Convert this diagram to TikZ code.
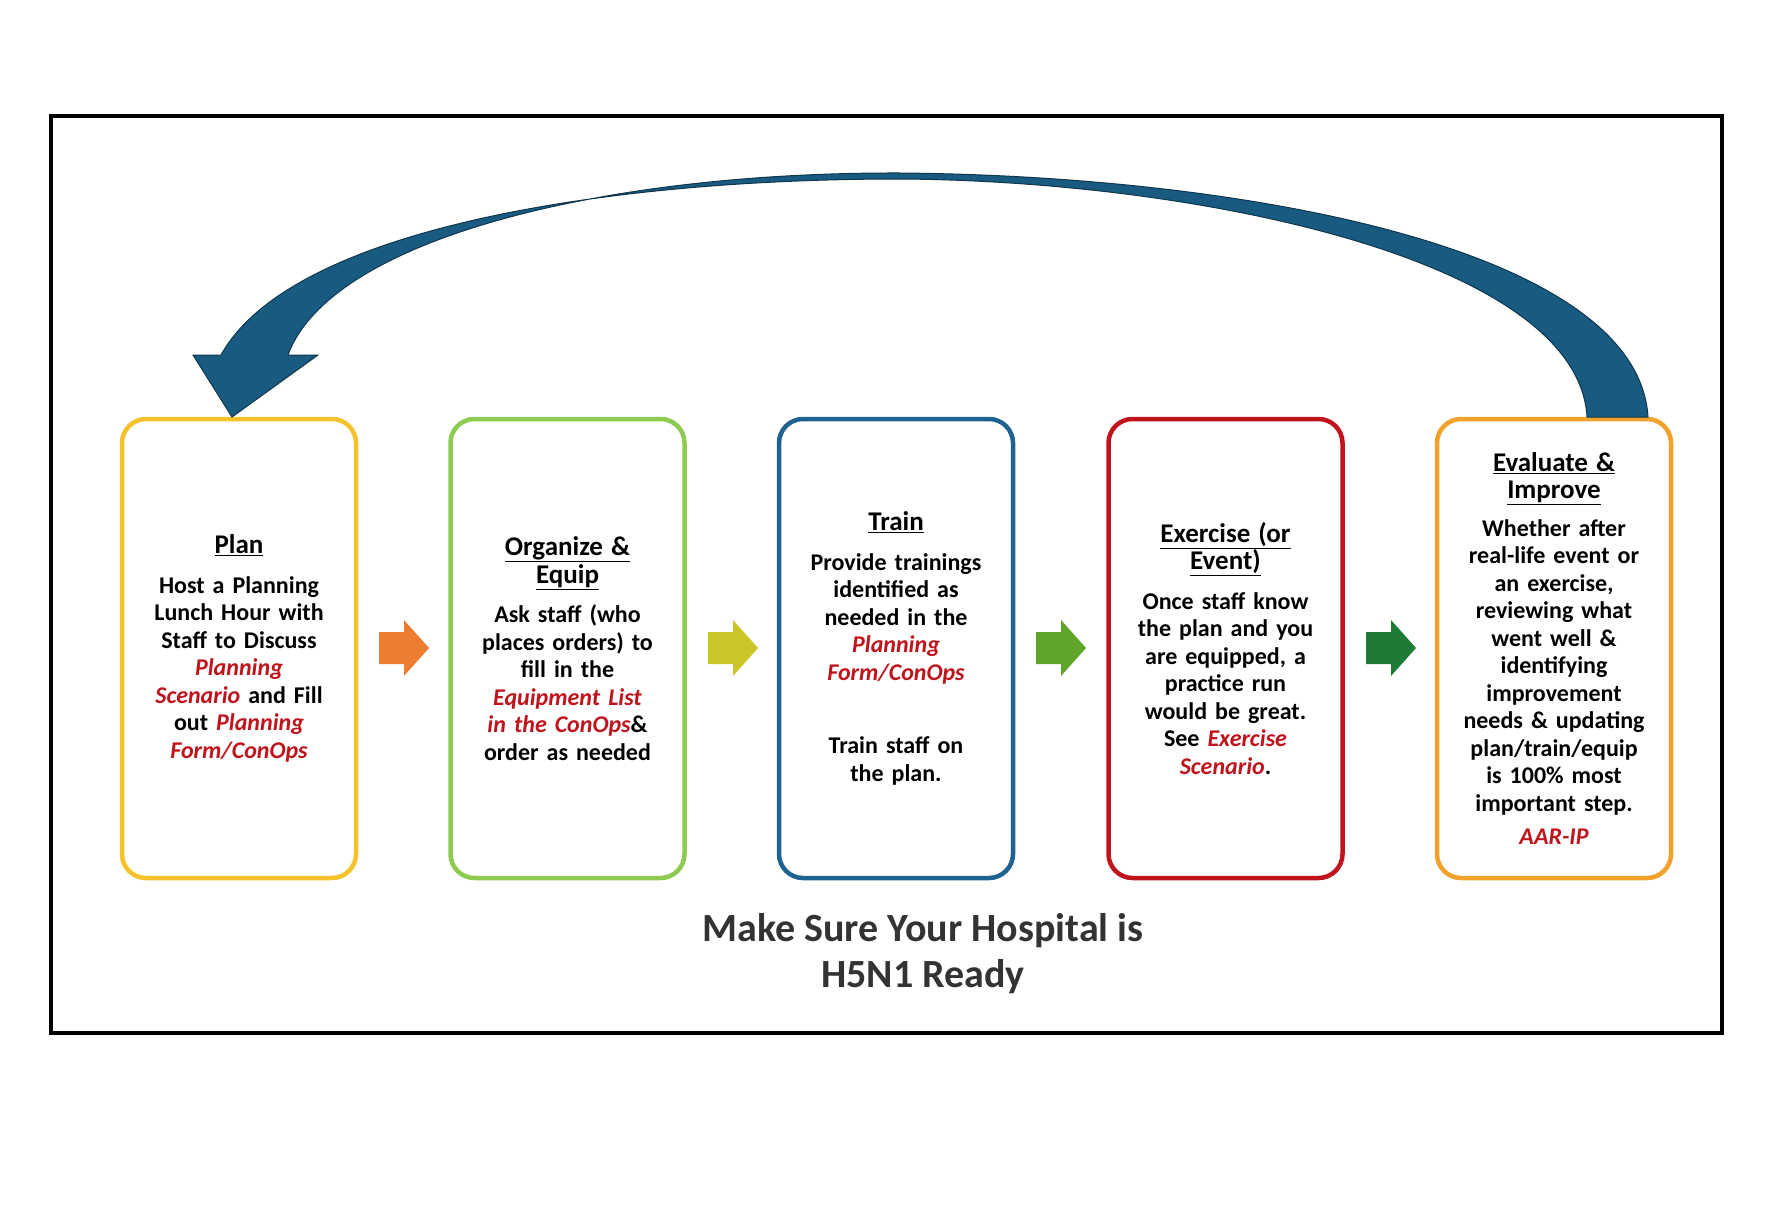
\documentclass[tikz,border=0pt]{standalone}
\usepackage{fontspec}
\setmainfont{Carlito}
\definecolor{cyel}{HTML}{F5C22B}
\definecolor{cgrn}{HTML}{8CCB4F}
\definecolor{cblu}{HTML}{1F6391}
\definecolor{cred}{HTML}{C0141C}
\definecolor{corg}{HTML}{F2A22A}
\definecolor{a1}{HTML}{ED7D31}
\definecolor{a2}{HTML}{C9C62A}
\definecolor{a3}{HTML}{5FA52C}
\definecolor{a4}{HTML}{1E7B33}
\definecolor{band}{HTML}{195A80}
\definecolor{rtext}{HTML}{C0141C}
\newcommand{\rt}[1]{\textcolor{rtext}{\itshape #1}}
\newcommand{\hd}[1]{{\fontsize{27}{34}\selectfont\underline{#1}}}
\begin{document}
\begin{tikzpicture}[x=1pt,y=-1pt,
  box/.style={draw=#1,line width=4.5pt,rounded corners=24pt,minimum width=234pt,minimum height=459pt,inner sep=0pt},
  txt/.style={align=center,font=\bfseries\fontsize{24}{27.5}\selectfont,text width=230pt}]
\useasboundingbox (0,0) rectangle (1776,1212);
\draw[line width=4.5pt] (51,116) rectangle (1722,1033);
\node[box=cyel] (b1) at (239,648.5) {};
\node[box=cgrn] (b2) at (567.5,648.5) {};
\node[box=cblu] (b3) at (896,648.5) {};
\node[box=cred] (b4) at (1225.5,648.5) {};
\node[box=corg] (b5) at (1554,648.5) {};
\node[txt] (t1) at (b1) {\hd{Plan}\\[12pt]Host a Planning\\Lunch Hour with\\Staff to Discuss\\\rt{Planning}\\\rt{Scenario} and Fill\\out \rt{Planning}\\\rt{Form/ConOps}};
\node[txt] (t2) at (b2) {\hd{Organize \&}\\\hd{Equip}\\[12pt]Ask staff (who\\places orders) to\\fill in the\\\rt{Equipment List}\\\rt{in the ConOps}\&\\order as needed};
\node[txt] (t3) at (b3) {\hd{Train}\\[12pt]Provide trainings\\identified as\\needed in the\\\rt{Planning}\\\rt{Form/ConOps}\\[46pt]Train staff on\\the plan.};
\node[txt] (t4) at (b4) {\hd{Exercise (or}\\\hd{Event)}\\[12pt]Once staff know\\the plan and you\\are equipped, a\\practice run\\would be great.\\See \rt{Exercise}\\\rt{Scenario}.};
\node[txt] (t5) at (b5) {\hd{Evaluate \&}\\\hd{Improve}\\[10pt]Whether after\\real-life event or\\an exercise,\\reviewing what\\went well \&\\identifying\\improvement\\needs \& updating\\plan/train/equip\\is 100\% most\\important step.\\[6pt]\rt{AAR-IP}};
\foreach \cx/\c in {404/a1,733/a2,1061/a3,1391/a4}{
  \fill[\c] (\cx-25,632) -- (\cx,632) -- (\cx,620) -- (\cx+25,648) -- (\cx,676) -- (\cx,664) -- (\cx-25,664) -- cycle;
}
\node[font=\bfseries\fontsize{40}{46}\selectfont,text=black!80,align=center] (title) at (923,954) {Make Sure Your Hospital is\\H5N1 Ready};
\filldraw[fill=band,draw=band!60!black,line width=1pt]
  (1648,417) .. controls (1638,250) and (1250,176) .. (900,173)
  .. controls (600,172) and (330,240) .. (288,355)
  -- (318,355) -- (232,417) -- (193,355) -- (221,355)
  .. controls (290,230) and (600,179) .. (900,179)
  .. controls (1200,181) and (1578,260) .. (1587,417) -- cycle;
\end{tikzpicture}
\end{document}
